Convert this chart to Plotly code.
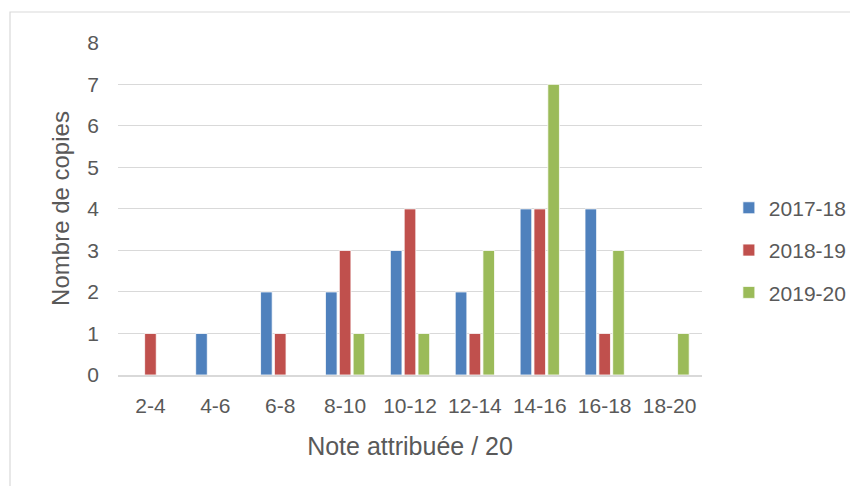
import plotly.graph_objects as go

categories = ["2-4", "4-6", "6-8", "8-10", "10-12", "12-14", "14-16", "16-18", "18-20"]
s2017 = [0, 1, 2, 2, 3, 2, 4, 4, 0]
s2018 = [1, 0, 1, 3, 4, 1, 4, 1, 0]
s2019 = [0, 0, 0, 1, 1, 3, 7, 3, 1]
series_names = ["2017-18", "2018-19", "2019-20"]
colors = ["#4f81bd", "#c0504d", "#9bbb59"]

FONT = "Liberation Sans"
TXT = "#595959"

fig = go.Figure()
for i, (name, vals, col) in enumerate(zip(series_names, [s2017, s2018, s2019], colors)):
    fig.add_trace(go.Bar(
        x=categories, y=vals, name=name,
        marker=dict(color=col, line=dict(color="white", width=0.8)),
        legendgroup=name,
    ))

fig.update_layout(
    width=858, height=486,
    margin=dict(l=110, r=164, t=34, b=119, autoexpand=False),
    paper_bgcolor="white", plot_bgcolor="white",
    barmode="group", bargap=0.36, bargroupgap=0.16,
    font=dict(family=FONT, color=TXT, size=21),
    showlegend=True,
    legend=dict(
        x=1.046, xanchor="left", y=0.375, yanchor="middle",
        font=dict(size=21, color=TXT, family=FONT),
        traceorder="grouped", tracegroupgap=12,
        itemwidth=30, borderwidth=0,
        bgcolor="rgba(0,0,0,0)",
    ),
    xaxis=dict(
        type="category", automargin=False,
        showgrid=False, showline=True, linecolor="#d9d9d9", linewidth=1.5,
        ticks="", tickfont=dict(size=21, color=TXT), ticklabelstandoff=11,
        title=dict(text="Note attribuée / 20", font=dict(size=25, color=TXT), standoff=22),
    ),
    yaxis=dict(
        range=[0, 8.02], dtick=1, showgrid=True, gridcolor="#d9d9d9", gridwidth=1.3,
        zeroline=False, showline=False, ticks="", ticklabelstandoff=18, automargin=False,
        tickfont=dict(size=21, color=TXT),
        title=dict(text="Nombre de copies", font=dict(size=24, color=TXT), standoff=10),
    ),
)

fig.add_shape(type="rect", xref="paper", yref="paper",
              x0=-(110 - 2) / 584, x1=1.3, y0=-0.5, y1=1 + (34 - 4) / 333,
              line=dict(color="#d9d9d9", width=1.2), fillcolor="rgba(0,0,0,0)", layer="below")

fig.write_html("out.html")
